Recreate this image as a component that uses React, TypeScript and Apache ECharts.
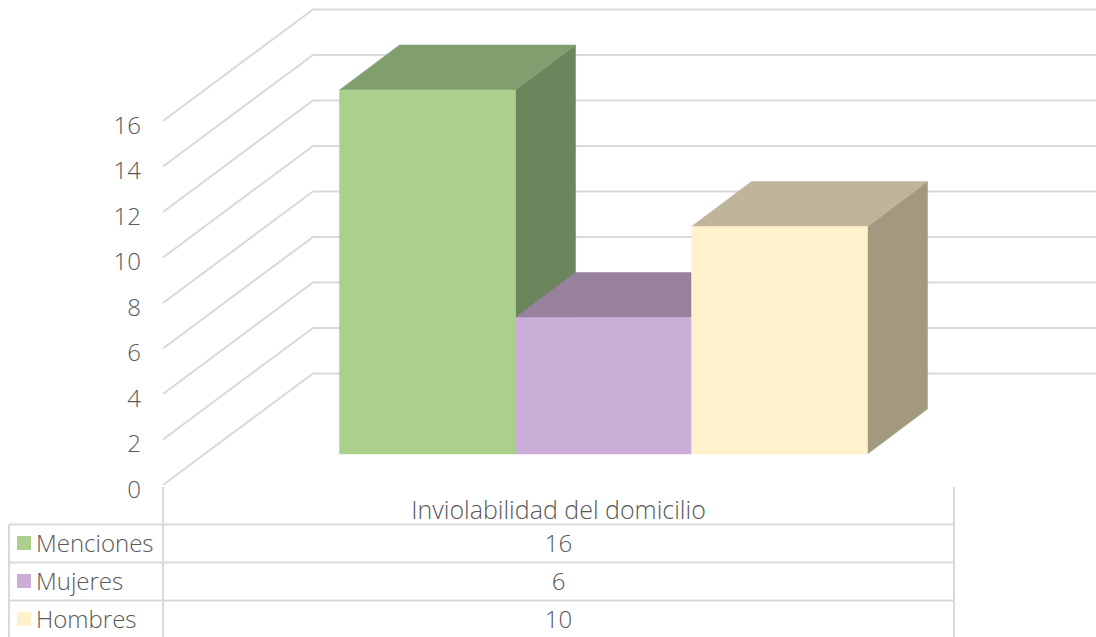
import React, { useEffect, useRef } from "react";
import * as echarts from "echarts";

const categories = ["Inviolabilidad del domicilio"];
const seriesNames = ["Menciones", "Mujeres", "Hombres"];
const menciones = [16];
const mujeres = [6];
const hombres = [10];
const seriesValues = [menciones, mujeres, hombres];
const gridTicks = [0, 2, 4, 6, 8, 10, 12, 14, 16];
const frontColors = ["#ABD08C", "#CAAED7", "#FFF1CC"];
const sideColors = ["#6C855C", "#98819F", "#A3997F"];
const topColors = ["#809E6E", "#98819F", "#BFB598"];

const GRID = "#D9D9D9";
const TEXT = "#595959";
const FONT = "'Open Sans'";
const FS = 24;
const FS_CAT = 25;
const W = 1096;
const H = 637;
const gridLeft = 163;
const gridRight = 954;
const gridTop = 121;
const gridBottom = 485;
const wallDx = 150;
const wallDy = -111.5;
const barDx = 45;
const barDy = -31;
const depthDx = 60;
const depthDy = -45;
const barFrac = 176 / 791;
const rowLines = [524.5, 562.5, 600.5];
const rowCentres = [542, 580, 618];

function gridRender(_params: any, api: any) {
  const p = api.coord([0, api.value(0)]);
  const y = p[1];
  return {
    type: "polyline",
    silent: true,
    shape: {
      points: [
        [gridLeft, y],
        [gridLeft + wallDx, y + wallDy],
        [W, y + wallDy],
      ],
    },
    style: { stroke: GRID, lineWidth: 2, fill: "none" },
  };
}

function barRender(index: number) {
  return (_params: any, api: any) => {
    const c = api.coord([0, api.value(0)]);
    const base = api.coord([0, 0]);
    const band = api.size([1, 0])[0];
    const w = band * barFrac;
    const x0 = c[0] + barDx + (index - 1.5) * w;
    const x1 = x0 + w;
    const yt = c[1] + barDy;
    const yb = base[1] + barDy;
    const poly = (points: number[][], color: string) => ({
      type: "polygon",
      silent: true,
      shape: { points },
      style: { fill: color, stroke: color, lineWidth: 0.5 },
    });
    return {
      type: "group",
      children: [
        poly(
          [
            [x1, yt],
            [x1 + depthDx, yt + depthDy],
            [x1 + depthDx, yb + depthDy],
            [x1, yb],
          ],
          sideColors[index]
        ),
        poly(
          [
            [x0, yt],
            [x0 + depthDx, yt + depthDy],
            [x1 + depthDx, yt + depthDy],
            [x1, yt],
          ],
          topColors[index]
        ),
        poly(
          [
            [x0, yt],
            [x1, yt],
            [x1, yb],
            [x0, yb],
          ],
          frontColors[index]
        ),
      ],
    };
  };
}

function tableGraphics() {
  const out: any[] = [];
  const line = (x1: number, y1: number, x2: number, y2: number) => ({
    type: "line",
    silent: true,
    shape: { x1, y1, x2, y2 },
    style: { stroke: GRID, lineWidth: 2 },
  });
  rowLines.forEach((y) => out.push(line(9, y, gridRight, y)));
  out.push(line(9, rowLines[0], 9, H));
  out.push(line(gridLeft, gridBottom + 2, gridLeft, H));
  out.push(line(gridRight, gridBottom + 2, gridRight, H));
  seriesNames.forEach((name, i) => {
    const y = rowCentres[i];
    out.push({
      type: "rect",
      silent: true,
      shape: { x: 17, y: y - 6, width: 14, height: 14 },
      style: { fill: frontColors[i] },
    });
    out.push({
      type: "text",
      silent: true,
      x: 36,
      y,
      style: {
        text: name,
        fill: TEXT,
        font: `300 ${FS}px ${FONT}`,
        textAlign: "left",
        textVerticalAlign: "middle",
      },
    });
    out.push({
      type: "text",
      silent: true,
      x: (gridLeft + gridRight) / 2,
      y,
      style: {
        text: String(seriesValues[i][0]),
        fill: TEXT,
        font: `300 ${FS}px ${FONT}`,
        textAlign: "center",
        textVerticalAlign: "middle",
      },
    });
  });
  return out;
}

export default function App() {
  const ref = useRef<HTMLDivElement>(null);
  useEffect(() => {
    document.body.style.margin = "0";
    const chart = echarts.init(ref.current!, undefined, { renderer: "svg" });
    chart.setOption({
      animation: false,
      backgroundColor: "#FFFFFF",
      grid: {
        left: gridLeft,
        right: W - gridRight,
        top: gridTop,
        bottom: H - gridBottom,
      },
      xAxis: {
        type: "category",
        data: categories,
        axisLine: { show: false },
        axisTick: { show: false },
        axisLabel: {
          color: TEXT,
          fontFamily: FONT,
          fontWeight: 300,
          fontSize: FS_CAT,
          margin: 11,
        },
      },
      yAxis: {
        type: "value",
        min: 0,
        max: 16,
        interval: 2,
        splitLine: { show: false },
        axisLine: { show: false },
        axisTick: { show: false },
        axisLabel: {
          margin: 22,
          formatter: "{a|{value}}",
          rich: {
            a: {
              color: TEXT,
              fontFamily: FONT,
              fontWeight: 300,
              fontSize: FS,
              padding: [6, 0, 0, 0],
            },
          },
        },
      },
      graphic: tableGraphics(),
      series: [
        {
          type: "custom",
          name: "grid",
          coordinateSystem: "cartesian2d",
          clip: false,
          silent: true,
          encode: { y: 0 },
          data: gridTicks.map((t) => [t]),
          renderItem: gridRender,
          z: 1,
        },
        ...seriesNames.map((name, i) => ({
          type: "custom",
          name,
          coordinateSystem: "cartesian2d",
          clip: false,
          silent: true,
          encode: { y: 0 },
          data: seriesValues[i].map((v) => [v]),
          renderItem: barRender(i),
          z: 2 + i,
        })),
      ],
    });
    return () => chart.dispose();
  }, []);
  return <div ref={ref} style={{ width: W, height: H, position: "absolute", left: 0, top: 0 }} />;
}
